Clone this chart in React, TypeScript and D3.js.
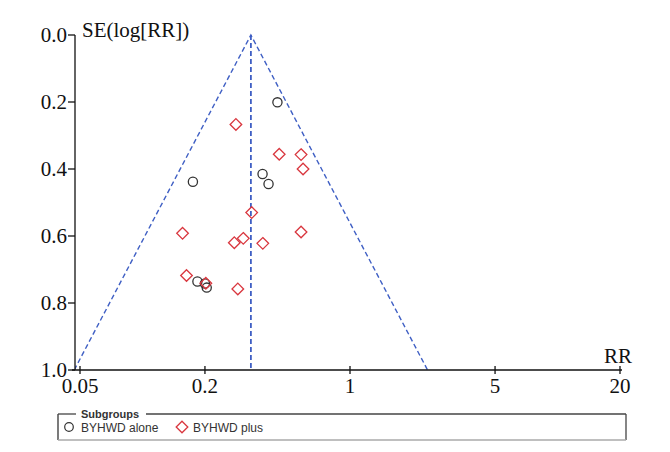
import React from 'react';
import * as d3 from 'd3';

// RR (x, log) and SE(log RR) (y)
const aloneRR = [0.447, 0.175, 0.379, 0.405, 0.184, 0.2, 0.204];
const aloneSE = [0.201, 0.438, 0.415, 0.445, 0.736, 0.742, 0.754];
const plusRR = [0.282, 0.456, 0.581, 0.594, 0.336, 0.156, 0.581, 0.277, 0.306, 0.38, 0.163, 0.202, 0.288];
const plusSE = [0.267, 0.356, 0.357, 0.4, 0.53, 0.592, 0.588, 0.62, 0.607, 0.622, 0.718, 0.741, 0.758];
const pooledRR = 0.333;
const xTicks = [0.05, 0.2, 1, 5, 20];
const xTickLabels = ['0.05', '0.2', '1', '5', '20'];
const yTicks = [0, 0.2, 0.4, 0.6, 0.8, 1.0];
const legendLabels = ['BYHWD alone', 'BYHWD plus'];

const W = 670;
const H = 452;
const serif = '"Liberation Serif", "DejaVu Serif", serif';
const sans = '"Liberation Sans", Arial, sans-serif';
const blue = '#3f5fc4';
const red = '#d9363e';
const dark = '#333';

function App() {
	const x = d3.scaleLog().domain([0.05, 20]).range([80, 620]);
	const y = d3.scaleLinear().domain([0, 1]).range([35, 370]);
	const x0 = 75; // y-axis position
	const xEnd = 622;

	// funnel: pooled +/- 1.96 SE on log scale
	const z = 1.96;
	const funnel = d3.line<[number, number]>()
		.x((d) => x(d[0]))
		.y((d) => y(d[1]));
	const funnelPts: [number, number][] = [
		[pooledRR * Math.exp(-z * 1), 1],
		[pooledRR, 0],
		[pooledRR * Math.exp(z * 1), 1],
	];

	const diamond = (cx: number, cy: number, r: number) =>
		`M${cx},${cy - r}L${cx + r},${cy}L${cx},${cy + r}L${cx - r},${cy}Z`;

	return (
		<svg width={W} height={H} style={{ position: 'absolute', left: 0, top: 0, background: '#fff' }}>
			<defs>
				<clipPath id="plot">
					<rect x={x0} y={y(0) - 2} width={xEnd - x0} height={y(1) - y(0) + 2} />
				</clipPath>
			</defs>

			{/* funnel + pooled line */}
			<g clipPath="url(#plot)" fill="none" stroke={blue} strokeWidth={1.4} strokeDasharray="5,3">
				<path d={funnel(funnelPts) || ''} />
				<line x1={x(pooledRR)} x2={x(pooledRR)} y1={y(0)} y2={y(1)} strokeWidth={1.8} />
			</g>

			{/* axes */}
			<g stroke="#111" strokeWidth={1.3}>
				<line x1={x0} x2={x0} y1={y(0)} y2={y(1)} />
				<line x1={x0 - 3} x2={xEnd} y1={y(1)} y2={y(1)} />
				{yTicks.map((t) => (
					<line key={'yt' + t} x1={x0 - 7} x2={x0} y1={y(t)} y2={y(t)} />
				))}
				{xTicks.map((t) => (
					<line key={'xt' + t} x1={x(t)} x2={x(t)} y1={y(1) - 4} y2={y(1) + 4} />
				))}
			</g>
			<g fontFamily={serif} fontSize={21} fill="#111">
				{yTicks.map((t) => (
					<text key={'yl' + t} x={x0 - 8} y={y(t)} dy="0.35em" textAnchor="end">
						{t.toFixed(1)}
					</text>
				))}
				{xTicks.map((t, i) => (
					<text key={'xl' + t} x={x(t)} y={393} textAnchor="middle">
						{xTickLabels[i]}
					</text>
				))}
				<text x={82} y={37}>SE(log[RR])</text>
				<text x={604} y={363}>RR</text>
			</g>

			{/* points */}
			<g fill="none" stroke={dark} strokeWidth={1.3}>
				{aloneRR.map((rr, i) => (
					<circle key={'a' + i} cx={x(rr)} cy={y(aloneSE[i])} r={4.6} />
				))}
			</g>
			<g fill="none" stroke={red} strokeWidth={1.3}>
				{plusRR.map((rr, i) => (
					<path key={'p' + i} d={diamond(x(rr), y(plusSE[i]), 5.8)} />
				))}
			</g>

			{/* legend */}
			<g>
				<line x1={58} x2={58} y1={414} y2={440} stroke="#333" strokeWidth={1.3} />
				<line x1={626} x2={626} y1={414} y2={440} stroke="#444" strokeWidth={1.3} />
				<line x1={58} x2={76} y1={414} y2={414} stroke="#444" strokeWidth={1.3} />
				<line x1={146} x2={626} y1={414} y2={414} stroke="#444" strokeWidth={1.3} />
				<line x1={58} x2={626} y1={440} y2={440} stroke="#aaa" strokeWidth={1.5} />
				<text x={81} y={418} fontFamily={sans} fontSize={11} fontWeight="bold" fill="#333">
					Subgroups
				</text>
				<circle cx={69} cy={427} r={4.3} fill="none" stroke={dark} strokeWidth={1.2} />
				<text x={81} y={432} fontFamily={sans} fontSize={12} fill="#333">
					{legendLabels[0]}
				</text>
				<path d={diamond(182, 427, 5.8)} fill="none" stroke={red} strokeWidth={1.3} />
				<text x={193} y={432} fontFamily={sans} fontSize={12} fill="#333">
					{legendLabels[1]}
				</text>
			</g>
		</svg>
	);
}

export default App;
